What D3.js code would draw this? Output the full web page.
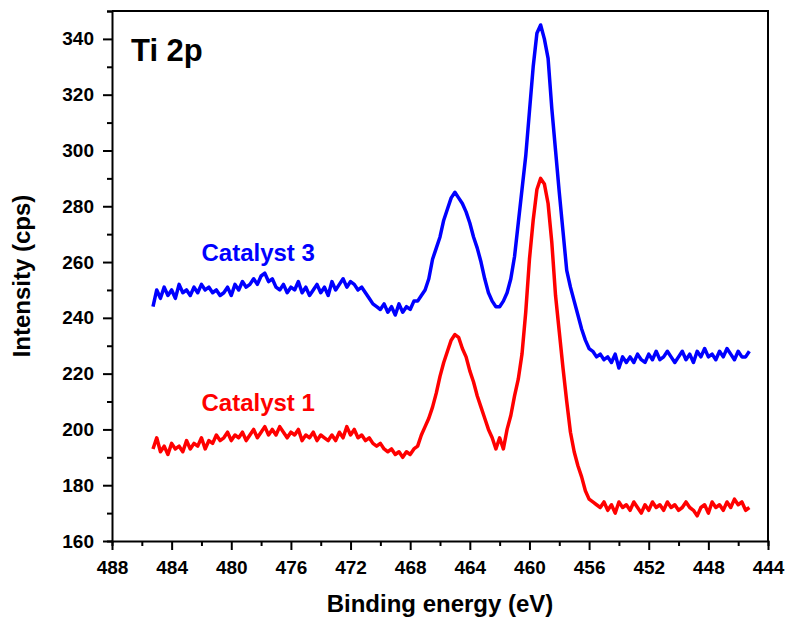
<!DOCTYPE html>
<html>
<head>
<meta charset="utf-8">
<script src="https://cdn.jsdelivr.net/npm/d3@7"></script>
<style>
  body { margin: 0; background: #fff; }
  svg text { font-family: "Liberation Sans", Arial, sans-serif; font-weight: bold; }
</style>
</head>
<body>
<div id="chart"></div>
<script>
// Energy grid: first point and step (eV)
const eStart = 485.25;
const eStep = 0.25;

// Catalyst 3 (blue), 2 eV per row
const catalyst3 = [
  244,250,247,251,248,250,247,252,
  249,250,248,251,249,252,250,251,
  249,250,248,249,251,248,252,250,
  253,251,252,254,252,255,256,253,
  254,251,250,252,249,251,250,253,
  249,251,248,250,252,249,251,248,
  253,250,252,254,251,253,252,250,
  251,249,247,245,244,243,245,242,
  244,241,245,242,244,243,246,246,
  248,250,254,261,265,269,275,279,
  283,285,283,281,278,274,269,265,
  260,254,249,246,244,244,246,249,
  254,262,274,286,298,314,330,342,
  345,340,333,315,300,285,271,257,
  251,246,241,236,232,229,228,226,
  227,225,226,224,227,222,226,224,
  226,224,227,225,224,227,225,228,
  225,226,228,226,224,226,228,225,
  227,224,228,226,229,226,227,225,
  228,226,229,227,225,228,226,226,
  228
];

// Catalyst 1 (red)
const catalyst1 = [
  193,197,192,194,191,195,193,194,
  192,196,193,195,194,197,193,196,
  195,198,196,197,199,196,198,197,
  199,196,198,200,197,199,201,198,
  200,198,201,199,197,199,198,200,
  196,198,197,199,196,198,197,196,
  198,196,199,197,201,198,200,197,
  198,196,197,195,194,195,193,192,
  193,191,192,190,192,191,193,194,
  198,201,204,208,213,219,224,228,
  232,234,233,229,226,221,217,212,
  208,204,200,197,193,197,193,200,
  205,212,218,227,242,261,275,286,
  290,288,281,267,248,235,222,210,
  199,192,187,183,178,175,174,173,
  172,174,171,173,170,174,172,173,
  171,174,172,170,173,171,174,172,
  173,171,174,172,173,171,172,174,
  172,171,169,172,173,170,174,172,
  173,171,174,172,175,173,174,171,
  172
];

const xTicks = [488, 484, 480, 476, 472, 468, 464, 460, 456, 452, 448, 444];
const yTicks = [160, 180, 200, 220, 240, 260, 280, 300, 320, 340];

const series = [
  { name: "Catalyst 3", values: catalyst3, color: "#0000ff", labelE: 482.0, labelV: 260.5 },
  { name: "Catalyst 1", values: catalyst1, color: "#ff0000", labelE: 482.0, labelV: 206.6 }
];

const width = 786;
const height = 619;
const margin = { top: 11, right: 18, bottom: 78, left: 112 };

const svg = d3.select("#chart")
  .append("svg")
  .attr("width", width)
  .attr("height", height);

// Binding energy runs right to left
const x = d3.scaleLinear()
  .domain([488, 444])
  .range([margin.left, width - margin.right]);

const y = d3.scaleLinear()
  .domain([160, 350])
  .range([height - margin.bottom, margin.top]);

const line = d3.line()
  .x((d, i) => x(eStart - eStep * i))
  .y(d => y(d));

// Spectra
series.forEach(s => {
  svg.append("path")
    .datum(s.values)
    .attr("fill", "none")
    .attr("stroke", s.color)
    .attr("stroke-width", 3.5)
    .attr("stroke-linejoin", "round")
    .attr("d", line);

  svg.append("text")
    .attr("x", x(s.labelE))
    .attr("y", y(s.labelV))
    .attr("fill", s.color)
    .attr("font-size", "24px")
    .text(s.name);
});

// Frame (top and right)
svg.append("path")
  .attr("d", `M${x(488)},${y(350)}H${x(444)}V${y(160)}`)
  .attr("fill", "none")
  .attr("stroke", "#000")
  .attr("stroke-width", 2);

// X axis with minor ticks
const xAxis = svg.append("g")
  .attr("transform", `translate(0,${y(160)})`);
xAxis.call(d3.axisBottom(x).tickValues(d3.range(488, 443, -2)).tickSize(5).tickFormat(""));
xAxis.call(g => g.selectAll(".tick").filter(d => xTicks.includes(d)).select("line").attr("y2", 9));
xAxis.selectAll(".tick line").attr("stroke-width", 2);
xAxis.select(".domain").attr("stroke-width", 2);
xAxis.selectAll(".tick")
  .filter(d => xTicks.includes(d))
  .select("text")
  .attr("y", 20)
  .attr("font-size", "19px")
  .attr("fill", "#000")
  .text(d => d);

// Y axis with minor ticks
const yAxis = svg.append("g")
  .attr("transform", `translate(${x(488)},0)`);
yAxis.call(d3.axisLeft(y).tickValues(d3.range(160, 351, 10)).tickSize(5).tickFormat(""));
yAxis.call(g => g.selectAll(".tick").filter(d => yTicks.includes(d)).select("line").attr("x2", -9));
yAxis.selectAll(".tick line").attr("stroke-width", 2);
yAxis.select(".domain").attr("stroke-width", 2);
yAxis.selectAll(".tick")
  .filter(d => yTicks.includes(d))
  .select("text")
  .attr("x", -18)
  .attr("font-size", "19px")
  .attr("fill", "#000")
  .text(d => d);

// Axis titles
svg.append("text")
  .attr("x", (x(488) + x(444)) / 2)
  .attr("y", 612)
  .attr("text-anchor", "middle")
  .attr("font-size", "24px")
  .text("Binding energy (eV)");

svg.append("text")
  .attr("transform", `translate(30,${(y(160) + y(350)) / 2}) rotate(-90)`)
  .attr("text-anchor", "middle")
  .attr("font-size", "24px")
  .text("Intensity (cps)");

// Panel label
svg.append("text")
  .attr("x", 131)
  .attr("y", 61)
  .attr("font-size", "31px")
  .text("Ti 2p");
</script>
</body>
</html>
